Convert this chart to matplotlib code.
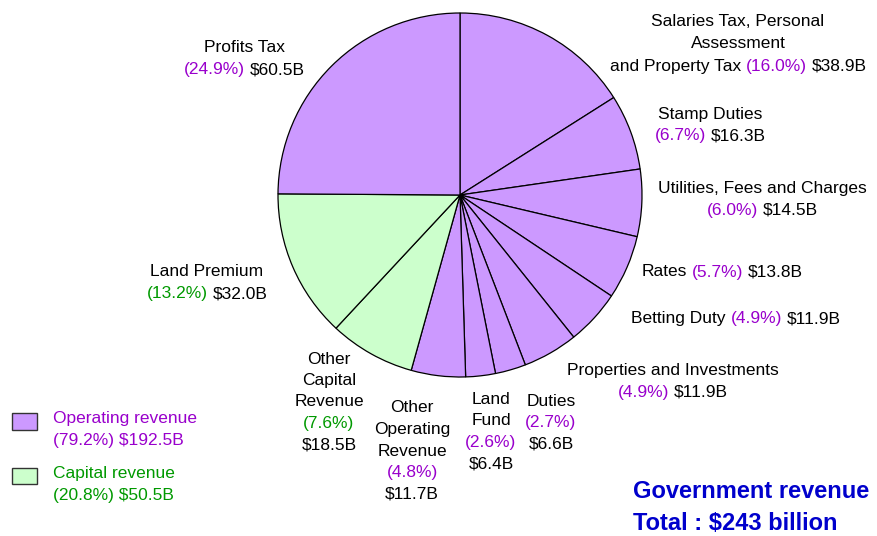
"""
Government revenue pie chart: operating vs capital revenue items.
"""
import matplotlib
matplotlib.use('Agg')
import matplotlib.pyplot as plt
from matplotlib.patches import Patch, Rectangle
from matplotlib.legend_handler import HandlerPatch
from matplotlib.offsetbox import TextArea, HPacker, AnnotationBbox

# slices, clockwise from 12 o'clock
names = ['Salaries Tax, Personal Assessment and Property Tax',
         'Stamp Duties', 'Utilities, Fees and Charges', 'Rates',
         'Betting Duty', 'Properties and Investments', 'Duties',
         'Land Fund', 'Other Operating Revenue', 'Other Capital Revenue',
         'Land Premium', 'Profits Tax']
values = [38.9, 16.3, 14.5, 13.8, 11.9, 11.9, 6.6, 6.4, 11.7, 18.5,
          32.0, 60.5]
pcts = [16.0, 6.7, 6.0, 5.7, 4.9, 4.9, 2.7, 2.6, 4.8, 7.6, 13.2, 24.9]
kinds = ['op', 'op', 'op', 'op', 'op', 'op', 'op', 'op', 'op', 'cap',
         'cap', 'op']

group_names = ['Operating revenue', 'Capital revenue']
group_pcts = [79.2, 20.8]
group_values = [192.5, 50.5]

FILL = {'op': '#cc99ff', 'cap': '#ccffcc'}
TXT = {'op': '#9900cc', 'cap': '#009900'}
FONT = 'Liberation Sans'
FS = 12.5


def put_lines(ax, lines, x, y, step=21.5):
    """Draw centred lines of coloured text pieces, first line at y."""
    for i, pieces in enumerate(lines):
        kids = [TextArea(t, textprops=dict(color=c, fontsize=FS,
                                           family=FONT))
                for t, c in pieces]
        box = HPacker(children=kids, align='baseline', pad=0, sep=3.5)
        ab = AnnotationBbox(box, (x, y + i * step), xycoords='data',
                            box_alignment=(0.5, 0.5), frameon=False,
                            pad=0)
        ax.add_artist(ab)


def raised_box(legend, orig_handle, xdescent, ydescent, width, height,
               fontsize):
    # legend box sits level with the first label line, not the middle
    return Rectangle((-xdescent, -ydescent + 6), width, height)


def main():
    fig = plt.figure(figsize=(8.77, 5.36), dpi=100)
    ax = fig.add_axes([0, 0, 1, 1])

    # pixel-like coordinates, y pointing down
    ax.pie(values, colors=[FILL[k] for k in kinds], startangle=-90,
           counterclock=True, center=(460, 195), radius=182,
           wedgeprops=dict(edgecolor='black', linewidth=0.9))
    ax.set_xlim(0, 877)
    ax.set_ylim(536, 0)
    ax.axis('off')

    def pc(i):
        return ('(%.1f%%)' % pcts[i], TXT[kinds[i]])

    def val(i):
        return ('$%.1fB' % values[i], 'black')

    k = 'black'
    put_lines(ax, [[('Salaries Tax, Personal', k)], [('Assessment', k)],
                   [('and Property Tax', k), pc(0), val(0)]], 738, 22, 22)
    put_lines(ax, [[(names[1], k)], [pc(1), val(1)]], 710, 114)
    put_lines(ax, [[(names[2], k)], [pc(2), val(2)]], 762, 189)
    put_lines(ax, [[(names[3], k), pc(3), val(3)]], 722, 272)
    put_lines(ax, [[(names[4], k), pc(4), val(4)]], 736, 319)
    put_lines(ax, [[(names[5], k)], [pc(5), val(5)]], 673, 371)
    put_lines(ax, [[('Duties', k)], [pc(6)], [val(6)]], 551, 401)
    put_lines(ax, [[('Land', k)], [('Fund', k)], [pc(7)], [val(7)]],
              491, 399)
    put_lines(ax, [[('Other', k)], [('Operating', k)], [('Revenue', k)],
                   [pc(8)], [val(8)]], 412, 408)
    put_lines(ax, [[('Other', k)], [('Capital', k)], [('Revenue', k)],
                   [pc(9)], [val(9)]], 329, 359)
    put_lines(ax, [[(names[10], k)], [pc(10), val(10)]], 207, 272)
    put_lines(ax, [[(names[11], k)], [pc(11), val(11)]], 244, 48)

    # legend for the two revenue groups
    handles = [Patch(facecolor=FILL[g], edgecolor='#333333', linewidth=1)
               for g in ['op', 'cap']]
    labels = ['%s\n(%.1f%%) $%.1fB' % (n, p, v)
              for n, p, v in zip(group_names, group_pcts, group_values)]
    leg = ax.legend(handles, labels, loc='upper left',
                    bbox_to_anchor=(7, 406), bbox_transform=ax.transData,
                    frameon=False, prop=dict(family=FONT, size=FS),
                    handlelength=1.4, handleheight=1.05,
                    handletextpad=0.95, labelspacing=1.0,
                    borderaxespad=0, borderpad=0.3,
                    handler_map={Patch: HandlerPatch(patch_func=raised_box)})
    for t, g in zip(leg.get_texts(), ['op', 'cap']):
        t.set_color(TXT[g])
        t.set_linespacing(1.6)

    ax.text(633, 491, 'Government revenue', color='#0000cc', fontsize=17,
            fontweight='bold', family=FONT, ha='left', va='center')
    ax.text(633, 523, 'Total : $243 billion', color='#0000cc',
            fontsize=17, fontweight='bold', family=FONT, ha='left',
            va='center')

    fig.savefig('out.png', dpi=100)


if __name__ == '__main__':
    main()
